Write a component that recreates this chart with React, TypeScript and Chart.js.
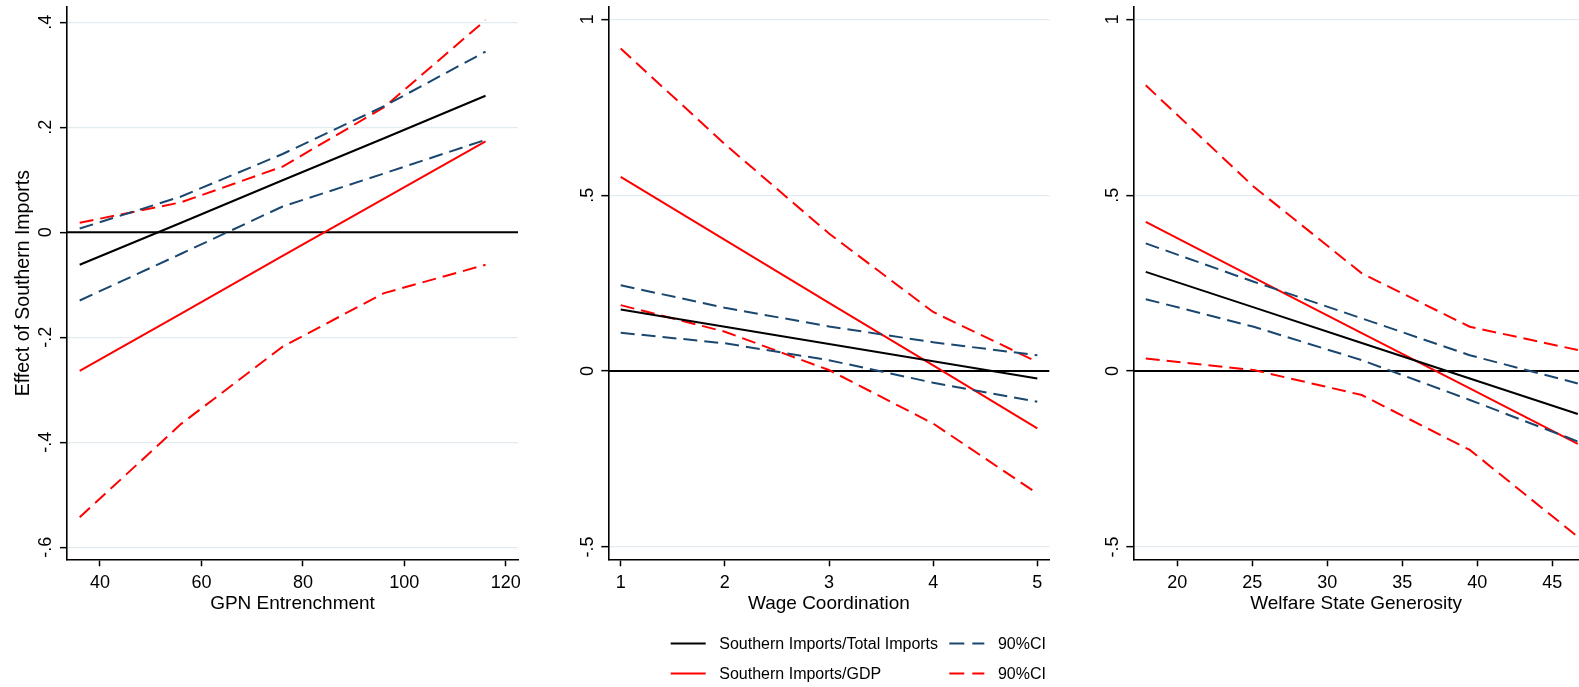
import React, { useEffect, useRef } from 'react';
import { Chart, registerables } from 'chart.js';

Chart.register(...registerables);

// ---------- data ----------
// Panel 1: GPN Entrenchment
const gpnX = [36, 56, 76, 96, 116];
const gpnTotal = [-0.062, 0.018, 0.099, 0.179, 0.26];
const gpnTotalHi = [0.007, 0.068, 0.149, 0.24, 0.344];
const gpnTotalLo = [-0.13, -0.041, 0.049, 0.112, 0.176];
const gpnGdp = [-0.264, -0.155, -0.045, 0.064, 0.173];
const gpnGdpHi = [0.018, 0.057, 0.125, 0.238, 0.404];
const gpnGdpLo = [-0.543, -0.365, -0.218, -0.116, -0.062];

// Panel 2: Wage Coordination
const wageX = [1, 2, 3, 4, 5];
const wageTotal = [0.175, 0.126, 0.077, 0.028, -0.021];
const wageTotalHi = [0.244, 0.18, 0.127, 0.082, 0.045];
const wageTotalLo = [0.109, 0.079, 0.031, -0.033, -0.087];
const wageGdp = [0.552, 0.373, 0.194, 0.016, -0.163];
const wageGdpHi = [0.917, 0.645, 0.391, 0.168, 0.026];
const wageGdpLo = [0.1875, 0.112, 0.003, -0.149, -0.348];

// Panel 3: Welfare State Generosity
const welfX = [17.9, 25.1, 32.3, 39.5, 46.7];
const welfTotal = [0.282, 0.181, 0.08, -0.021, -0.122];
const welfTotalHi = [0.363, 0.254, 0.15, 0.045, -0.035];
const welfTotalLo = [0.2045, 0.126, 0.031, -0.082, -0.2];
const welfGdp = [0.424, 0.266, 0.108, -0.049, -0.207];
const welfGdpHi = [0.8125, 0.524, 0.278, 0.126, 0.06];
const welfGdpLo = [0.036, 0.003, -0.068, -0.224, -0.471];

// axis ranges / ticks
const gpnXRange = [33.5, 122.4];
const gpnYRange = [-0.623, 0.429];
const wageXRange = [0.881, 5.117];
const welfXRange = [17.07, 46.78];
const wideYRange = [-0.535, 1.035];

const xTitles = ['GPN Entrenchment', 'Wage Coordination', 'Welfare State Generosity'];
const yTitle = 'Effect of Southern Imports';
const legendLabels = ['Southern Imports/Total Imports', '90%CI', 'Southern Imports/GDP', '90%CI'];

// ---------- styles ----------
const FONT = '"Liberation Sans", Arial, Helvetica, sans-serif';
const BLACK = '#000000';
const RED = '#ff0000';
const NAVY = '#1a476f';
const GRID = '#e2ebef';
const DASH = [14, 7];
const LW = 2;

const fmtTick = (v: number) => {
  const r = Math.round(v * 10) / 10;
  if (r === 0) return '0';
  const s = String(Math.abs(r)).replace(/^0/, '');
  return (r < 0 ? '-' : '') + s;
};

const toPts = (xs: number[], ys: number[]) => xs.map((x, i) => ({ x, y: ys[i] }));

type Spec = {
  left: number;
  width: number;
  yAxisWidth: number;
  padRight: number;
  xs: number[];
  total: number[];
  totalHi: number[];
  totalLo: number[];
  gdp: number[];
  gdpHi: number[];
  gdpLo: number[];
  xRange: number[];
  yRange: number[];
  xStep: number;
  yStep: number;
  xTitle: string;
  showYTitle: boolean;
  showLegend: boolean;
};

const specs: Spec[] = [
  {
    left: 0, width: 530, yAxisWidth: 67, padRight: 12,
    xs: gpnX, total: gpnTotal, totalHi: gpnTotalHi, totalLo: gpnTotalLo,
    gdp: gpnGdp, gdpHi: gpnGdpHi, gdpLo: gpnGdpLo,
    xRange: gpnXRange, yRange: gpnYRange, xStep: 20, yStep: 0.2,
    xTitle: xTitles[0], showYTitle: true, showLegend: false,
  },
  {
    left: 530, width: 530, yAxisWidth: 78.3, padRight: 10.5,
    xs: wageX, total: wageTotal, totalHi: wageTotalHi, totalLo: wageTotalLo,
    gdp: wageGdp, gdpHi: wageGdpHi, gdpLo: wageGdpLo,
    xRange: wageXRange, yRange: wideYRange, xStep: 1, yStep: 0.5,
    xTitle: xTitles[1], showYTitle: false, showLegend: true,
  },
  {
    left: 1060, width: 519, yAxisWidth: 73.3, padRight: 0,
    xs: welfX, total: welfTotal, totalHi: welfTotalHi, totalLo: welfTotalLo,
    gdp: welfGdp, gdpHi: welfGdpHi, gdpLo: welfGdpLo,
    xRange: welfXRange, yRange: wideYRange, xStep: 5, yStep: 0.5,
    xTitle: xTitles[2], showYTitle: false, showLegend: false,
  },
];

const H = 687;
const PAD_TOP = 7;
const X_AXIS_H = 60;
const PAD_BOTTOM = H - 559.3 - X_AXIS_H;

const yTickPlugin = {
  id: 'rotatedYTicks',
  afterDraw(chart: any) {
    const ys = chart.scales.y;
    const ctx = chart.ctx;
    ctx.save();
    ctx.fillStyle = '#000';
    ctx.font = `18px ${FONT}`;
    ctx.textAlign = 'center';
    ctx.textBaseline = 'middle';
    ys.ticks.forEach((t: any) => {
      const py = ys.getPixelForValue(t.value);
      ctx.save();
      ctx.translate(chart.chartArea.left - 20.5, py);
      ctx.rotate(-Math.PI / 2);
      ctx.fillText(fmtTick(t.value), 0, 0);
      ctx.restore();
    });
    ctx.restore();
  },
};

const legendPlugin = {
  id: 'stataLegend',
  afterDraw(chart: any) {
    const opts = chart.options.plugins.stataLegend;
    if (!opts || !opts.enabled) return;
    const ctx = chart.ctx;
    const items = [
      { label: legendLabels[0], color: BLACK, dash: [] as number[], col: 0, row: 0 },
      { label: legendLabels[1], color: NAVY, dash: [15, 8], col: 1, row: 0 },
      { label: legendLabels[2], color: RED, dash: [] as number[], col: 0, row: 1 },
      { label: legendLabels[3], color: RED, dash: [15, 8], col: 1, row: 1 },
    ];
    const colX = [140.7, 419.3];
    const rowY = [643.5, 673.5];
    ctx.save();
    ctx.font = `16px ${FONT}`;
    ctx.textBaseline = 'middle';
    ctx.textAlign = 'left';
    items.forEach((it) => {
      const x0 = colX[it.col];
      const y = rowY[it.row];
      ctx.beginPath();
      ctx.setLineDash(it.dash);
      ctx.strokeStyle = it.color;
      ctx.lineWidth = LW;
      ctx.moveTo(x0, y);
      ctx.lineTo(x0 + 35, y);
      ctx.stroke();
      ctx.setLineDash([]);
      ctx.fillStyle = '#000';
      ctx.fillText(it.label, x0 + 48.6, y + 1);
    });
    ctx.restore();
  },
};

function buildConfig(s: Spec): any {
  const line = (data: number[], color: string, dash: number[]) => ({
    data: toPts(s.xs, data),
    borderColor: color,
    backgroundColor: color,
    borderWidth: LW,
    borderDash: dash,
    pointRadius: 0,
    tension: 0,
    fill: false,
  });
  const zero = {
    data: [
      { x: s.xRange[0], y: 0 },
      { x: s.xRange[1], y: 0 },
    ],
    borderColor: BLACK,
    borderWidth: 2,
    pointRadius: 0,
    fill: false,
  };
  return {
    type: 'line',
    data: {
      datasets: [
        line(s.total, BLACK, []),
        line(s.totalHi, NAVY, DASH),
        line(s.totalLo, NAVY, DASH),
        line(s.gdp, RED, []),
        line(s.gdpHi, RED, DASH),
        line(s.gdpLo, RED, DASH),
        zero,
      ],
    },
    options: {
      responsive: false,
      animation: false,
      events: [],
      layout: { padding: { top: PAD_TOP, bottom: PAD_BOTTOM, left: 0, right: s.padRight } },
      plugins: {
        legend: { display: false },
        tooltip: { enabled: false },
        stataLegend: { enabled: s.showLegend },
      },
      scales: {
        x: {
          type: 'linear',
          min: s.xRange[0],
          max: s.xRange[1],
          afterFit: (sc: any) => {
            sc.height = X_AXIS_H;
          },
          ticks: {
            stepSize: s.xStep,
            includeBounds: false,
            color: '#000',
            padding: 6,
            font: { family: FONT, size: 18, lineHeight: 1.2 },
            maxRotation: 0,
            autoSkip: false,
          },
          grid: {
            drawOnChartArea: false,
            drawTicks: true,
            tickLength: 7,
            tickColor: '#000',
            tickWidth: 1.5,
          },
          border: { display: true, color: '#000', width: 1.6 },
          title: {
            display: true,
            text: s.xTitle,
            color: '#000',
            font: { family: FONT, size: 19, lineHeight: 1.2 },
            padding: { top: 0, bottom: 4.6 },
          },
        },
        y: {
          type: 'linear',
          min: s.yRange[0],
          max: s.yRange[1],
          afterFit: (sc: any) => {
            sc.width = s.yAxisWidth;
          },
          ticks: {
            stepSize: s.yStep,
            includeBounds: false,
            display: false,
          },
          grid: {
            color: GRID,
            lineWidth: 1.3,
            drawTicks: true,
            tickLength: 7,
            tickColor: '#000',
            tickWidth: 1.5,
          },
          border: { display: true, color: '#000', width: 1.6 },
          title: {
            display: s.showYTitle,
            text: yTitle,
            color: '#000',
            font: { family: FONT, size: 19.5, lineHeight: 1.2 },
            padding: { top: 11.5, bottom: 0 },
          },
        },
      },
    },
    plugins: [yTickPlugin, legendPlugin],
  };
}

function Panel({ spec }: { spec: Spec }) {
  const ref = useRef<HTMLCanvasElement>(null);
  useEffect(() => {
    if (!ref.current) return;
    const chart = new Chart(ref.current, buildConfig(spec));
    return () => chart.destroy();
  }, [spec]);
  return (
    <canvas
      ref={ref}
      width={spec.width}
      height={H}
      style={{ position: 'absolute', left: spec.left, top: 0, width: spec.width, height: H }}
    />
  );
}

export default function App() {
  return (
    <div
      style={{
        position: 'absolute',
        left: 0,
        top: 0,
        width: 1579,
        height: H,
        background: '#ffffff',
        overflow: 'hidden',
      }}
    >
      {specs.map((s, i) => (
        <Panel key={i} spec={s} />
      ))}
    </div>
  );
}
